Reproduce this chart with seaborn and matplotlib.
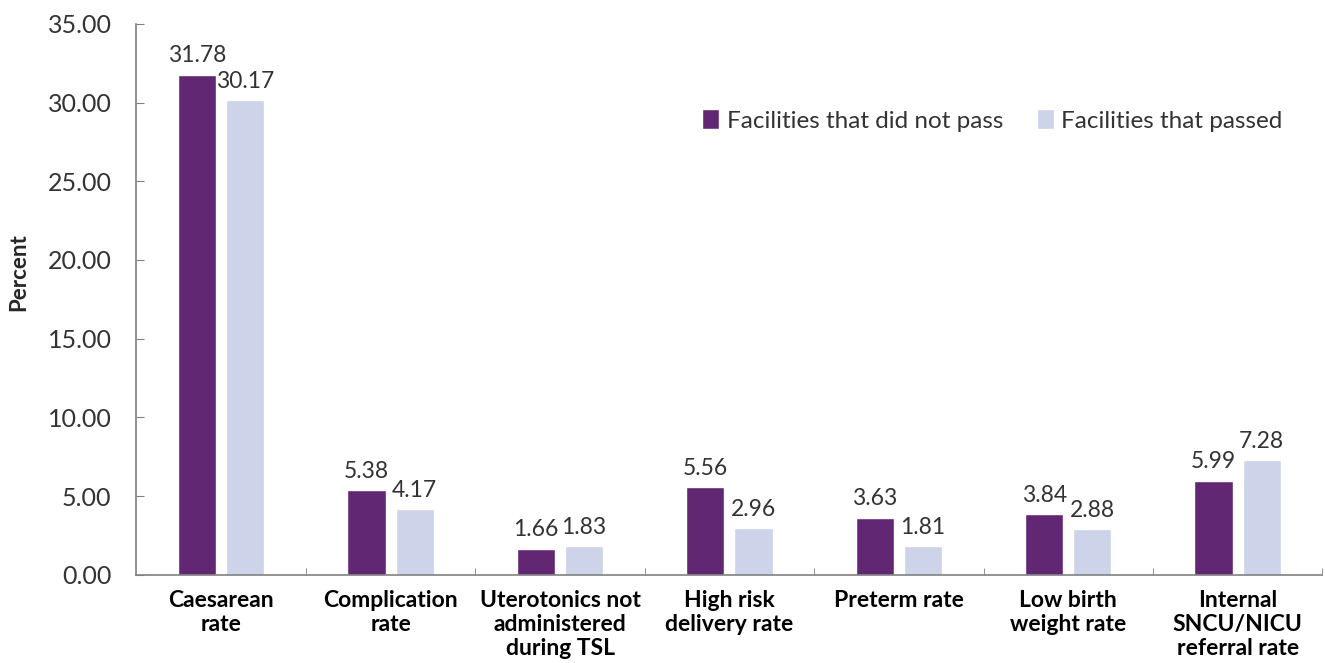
import seaborn as sns
import pandas as pd
import matplotlib.pyplot as plt
from matplotlib.ticker import FixedLocator

categories = ["Caesarean\nrate", "Complication\nrate", "Uterotonics not\nadministered\nduring TSL",
              "High risk\ndelivery rate", "Preterm rate", "Low birth\nweight rate",
              "Internal\nSNCU/NICU\nreferral rate"]
not_passed = [31.78, 5.38, 1.66, 5.56, 3.63, 3.84, 5.99]
passed = [30.17, 4.17, 1.83, 2.96, 1.81, 2.88, 7.28]
series = ["Facilities that did not pass", "Facilities that passed"]
yticks = [0, 5, 10, 15, 20, 25, 30, 35]

df = pd.DataFrame({
    "category": categories * 2,
    "value": not_passed + passed,
    "group": [series[0]] * len(categories) + [series[1]] * len(categories),
})

sns.set_style("white")
plt.rcParams['font.family'] = ['Lato', 'DejaVu Sans']

fig = plt.figure(figsize=(13.25, 6.63), dpi=100)
ax = fig.add_axes([0.103, 0.133, 0.895, 0.831])

sns.barplot(data=df, x="category", y="value", hue="group", order=categories,
            hue_order=series, palette=["#622773", "#cdd3e8"], width=0.57, gap=0.21,
            ax=ax, saturation=1)

for cont in ax.containers:
    ax.bar_label(cont, fmt="%.2f", padding=6, fontsize=16.5, color="#333333")

ax.set_xlim(-0.5, 6.5)
ax.set_ylim(0, 35)
ax.set_yticks(yticks)
ax.set_yticklabels([f"{v:.2f}" for v in yticks], fontsize=18, color="#333333")
ax.set_xticks(range(len(categories)))
ax.set_xticklabels(categories, fontsize=16.5, fontweight="bold", color="black",
                   linespacing=1.18)
ax.xaxis.set_minor_locator(FixedLocator([i + 0.5 for i in range(len(categories))]))
ax.tick_params(axis="x", which="major", length=0, pad=11)
ax.tick_params(axis="x", which="minor", direction="in", length=5, color="#808080", bottom=True)
ax.tick_params(axis="y", direction="in", length=6, color="#808080", left=True, pad=18)

ax.set_xlabel("")
ax.set_ylabel("Percent", fontsize=16, fontweight="bold")
ax.yaxis.set_label_coords(-0.09, 0.55)

for s in ["top", "right"]:
    ax.spines[s].set_visible(False)
for s in ["left", "bottom"]:
    ax.spines[s].set_color("#808080")
    ax.spines[s].set_linewidth(1.2)

ax.legend(loc="upper right", bbox_to_anchor=(0.985, 0.885), ncol=2, frameon=False,
          fontsize=17.5, handlelength=0.7, handleheight=0.9, handletextpad=0.3,
          columnspacing=1.4, labelcolor="#333333")

fig.savefig("out.png", dpi=100)
